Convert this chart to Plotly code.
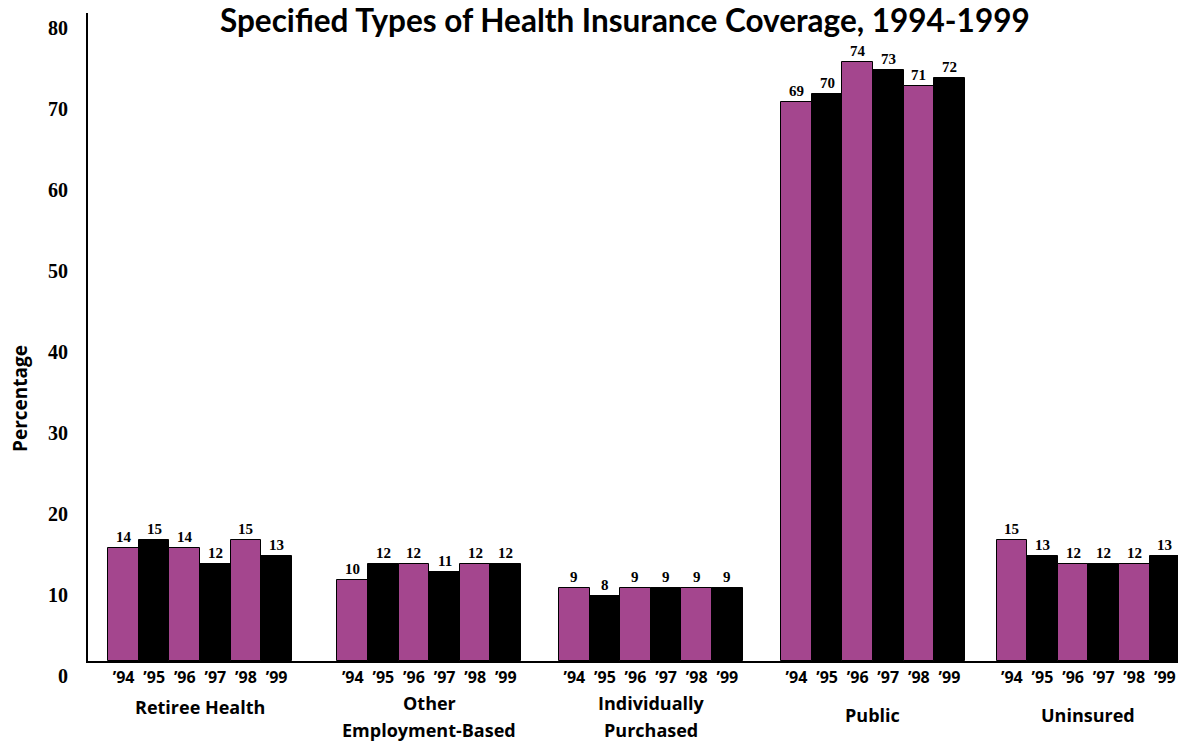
import plotly.graph_objects as go

# Coverage categories and survey years
categories = ["Retiree Health", "Other<br>Employment-Based", "Individually<br>Purchased", "Public", "Uninsured"]
years = ["’94", "’95", "’96", "’97", "’98", "’99"]

# Percentage with each type of coverage, by year (1994-1999)
retiree_health = [14, 15, 14, 12, 15, 13]
other_employment = [10, 12, 12, 11, 12, 12]
individually_purchased = [9, 8, 9, 9, 9, 9]
public = [69, 70, 74, 73, 71, 72]
uninsured = [15, 13, 12, 12, 12, 13]

y_ticks = [0, 10, 20, 30, 40, 50, 60, 70, 80]

series = [retiree_health, other_employment, individually_purchased, public, uninsured]

# Layout: left edge of each group on the bar-unit x axis, label offsets (px)
GROUP_START = [0.0, 7.49, 14.73, 21.99, 29.03]
LABEL_SHIFT = [-46, -42, -42, -54, -54]
LINE_GAP = 27
PURPLE = "#A4468E"
BLACK = "#000000"
SANS = "Open Sans"
TITLE_FONT = "Lato"
SERIF = "Liberation Serif"

fig = go.Figure()

tick_x, tick_text = [], []
annotations = []
for yi, yr in enumerate(years):
    xs = [GROUP_START[g] + yi + 0.5 for g in range(len(categories))]
    ys = [series[g][yi] for g in range(len(categories))]
    fig.add_trace(go.Bar(
        x=xs, y=ys, width=1.0,
        marker=dict(color=PURPLE if yi % 2 == 0 else BLACK,
                    line=dict(color="black", width=1)),
        showlegend=False, hoverinfo="skip",
    ))
    for x, v in zip(xs, ys):
        annotations.append(dict(
            x=x, y=v, xref="x", yref="y", text=str(v), showarrow=False,
            yanchor="bottom", yshift=1,
            font=dict(family=SERIF, size=15, color="black", weight="bold"),
        ))
    tick_x.extend(xs)
    tick_text.extend([yr] * len(xs))

# Category names under each group of bars, one annotation per line
for g, name in enumerate(categories):
    center = GROUP_START[g] + 3.0
    for li, line in enumerate(name.split("<br>")):
        annotations.append(dict(
            x=center, y=0, xref="x", yref="paper", text=line, showarrow=False,
            yanchor="middle", yshift=LABEL_SHIFT[g] - li * LINE_GAP,
            font=dict(family=SANS, size=18, color="black", weight="bold"),
        ))

# Chart title
annotations.append(dict(
    x=(625 - 88) / 1090, y=1, xref="paper", yref="paper",
    text="Specified Types of Health Insurance Coverage, 1994-1999",
    showarrow=False, yanchor="middle", yshift=-7,
    font=dict(family=TITLE_FONT, size=31.5, color="black", weight="bold"),
))

# Vertical axis title
annotations.append(dict(
    x=0, y=0, xref="paper", yref="paper", text="Percentage",
    showarrow=False, textangle=-90, xanchor="center", yanchor="middle",
    xshift=-68, yshift=262,
    font=dict(family=SANS, size=19, color="black", weight="bold"),
))

fig.update_layout(
    width=1178, height=741,
    margin=dict(l=88, r=0, t=13, b=80),
    plot_bgcolor="white", paper_bgcolor="white",
    bargap=0, barmode="overlay",
    annotations=annotations,
    xaxis=dict(
        range=[-0.663, 34.96], showgrid=False, zeroline=False,
        showline=True, linecolor="black", linewidth=2,
        tickvals=tick_x, ticktext=tick_text, ticks="",
        tickfont=dict(family=SANS, size=16, color="black", weight="bold"),
        ticklabelstandoff=1,
    ),
    yaxis=dict(
        range=[0, 80], showgrid=False, zeroline=False,
        showline=True, linecolor="black", linewidth=2,
        tickvals=y_ticks, ticks="",
        tickfont=dict(family=SERIF, size=20, color="black", weight="bold"),
        ticklabelshift=15, ticklabelstandoff=14,
    ),
)

fig.write_html("out.html")
